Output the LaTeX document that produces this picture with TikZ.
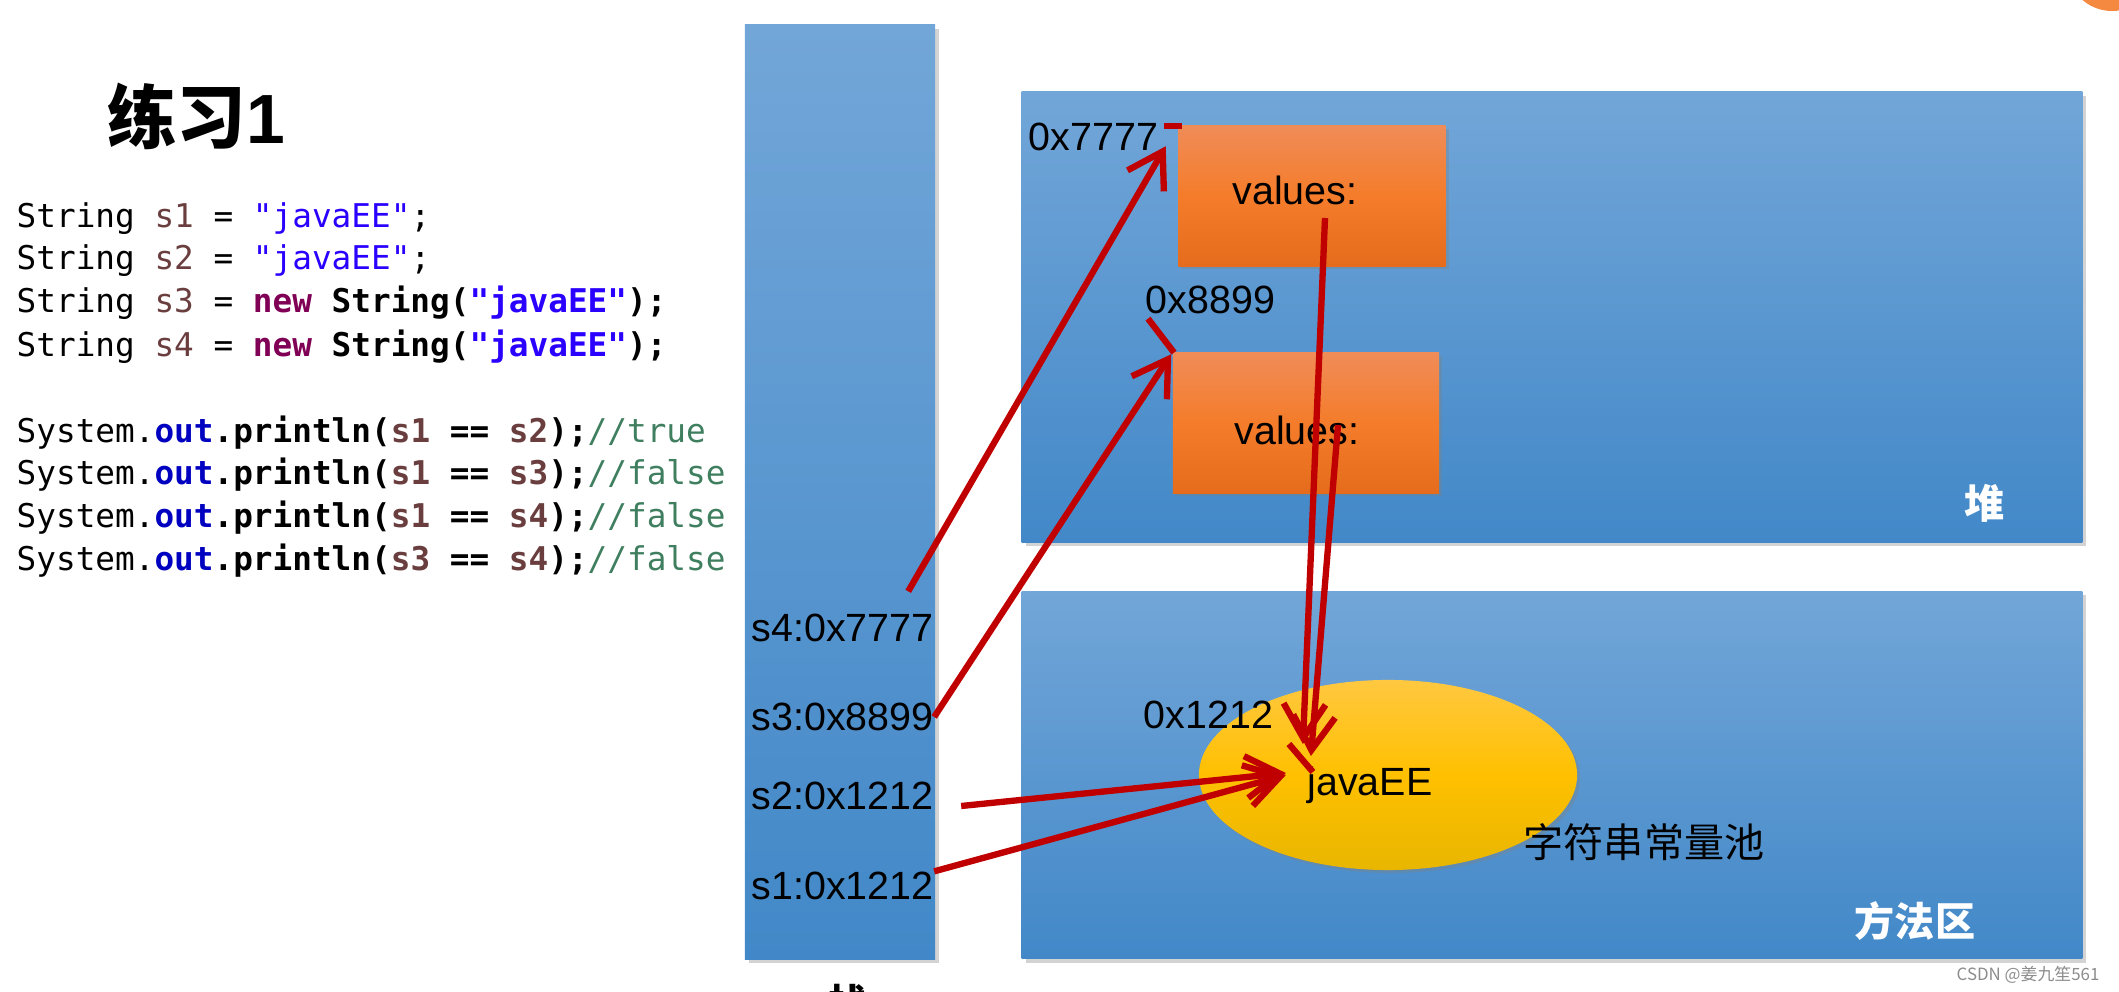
\documentclass[tikz,border=0pt]{standalone}
\usepackage{fontspec}
\setmainfont{Liberation Sans}
\setmonofont{DejaVu Sans Mono}
\newfontfamily\cjk{Noto Sans CJK SC}
\usetikzlibrary{arrows.meta,positioning,shapes.geometric,shadows}
\definecolor{areatop}{RGB}{114,166,216}
\definecolor{areabot}{RGB}{66,136,200}
\definecolor{objtop}{RGB}{240,140,88}
\definecolor{objmid}{RGB}{244,124,42}
\definecolor{objbot}{RGB}{228,108,28}
\definecolor{pooltop}{RGB}{255,200,64}
\definecolor{poolmid}{RGB}{255,192,0}
\definecolor{poolbot}{RGB}{232,182,0}
\definecolor{memred}{RGB}{192,0,0}
\definecolor{jvar}{RGB}{106,62,62}
\definecolor{jstr}{RGB}{42,0,255}
\definecolor{jkw}{RGB}{127,0,85}
\definecolor{jout}{RGB}{0,0,192}
\definecolor{jcmt}{RGB}{63,127,95}
\newcommand{\jvar}[1]{\textcolor{jvar}{#1}}
\newcommand{\jstr}[1]{\textcolor{jstr}{#1}}
\newcommand{\jkw}[1]{\textcolor{jkw}{#1}}
\newcommand{\jout}[1]{\textcolor{jout}{#1}}
\newcommand{\jcmt}[1]{\textcolor{jcmt}{#1}}

\begin{document}
\begin{tikzpicture}[x=0.01cm, y=-0.01cm,
  area/.style={inner sep=0, top color=areatop, bottom color=areabot,
    drop shadow={shadow xshift=0.04cm, shadow yshift=-0.04cm, opacity=0.35}},
  obj/.style={inner sep=0, top color=objtop, bottom color=objbot, middle color=objmid,
    drop shadow={shadow xshift=0.03cm, shadow yshift=-0.03cm, opacity=0.35}},
  lbl/.style={inner sep=0, font=\fontsize{11.2}{13}\selectfont},
  zh/.style={inner sep=0, font=\cjk\fontsize{11.4}{13}\selectfont},
  code/.style={anchor=base west, inner sep=0, font=\ttfamily\fontsize{9.3}{11}\selectfont},
  ptr/.style={memred, line width=1.8pt, -{Straight Barb[length=0.34cm,width=0.42cm]}},
  stub/.style={memred, line width=1.8pt}]
\useasboundingbox (0,0) rectangle (2119,992);
\fill[objmid!90!white] (2112,-34) circle (0.45cm);

% title and code
\node[font=\fontsize{19.8}{23}\selectfont\bfseries] (title) at (196,116) {{\cjk 练习}1};
\node[code] (c1) at (16,228) {String \jvar{s1} = \jstr{"javaEE"};};
\node[code] (c2) at (16,270) {String \jvar{s2} = \jstr{"javaEE"};};
\node[code] (c3) at (16,313) {String \jvar{s3} = \textbf{\jkw{new} String(\jstr{"javaEE"});}};
\node[code] (c4) at (16,357) {String \jvar{s4} = \textbf{\jkw{new} String(\jstr{"javaEE"});}};
\node[code] (c5) at (16,443) {System.\textbf{\jout{out}.println(\jvar{s1} == \jvar{s2});}\jcmt{//true}};
\node[code] (c6) at (16,485) {System.\textbf{\jout{out}.println(\jvar{s1} == \jvar{s3});}\jcmt{//false}};
\node[code] (c7) at (16,528) {System.\textbf{\jout{out}.println(\jvar{s1} == \jvar{s4});}\jcmt{//false}};
\node[code] (c8) at (16,571) {System.\textbf{\jout{out}.println(\jvar{s3} == \jvar{s4});}\jcmt{//false}};

% stack
\node[area, minimum width=1.90cm, minimum height=9.34cm] (stack) at (840,492) {};
\node[zh, font=\cjk\bfseries\fontsize{11.4}{13}\selectfont] (stacklbl) at (849,1003) {栈};
\node[lbl, anchor=west] (s4) at (751,628) {s4:0x7777};
\node[lbl, anchor=west] (s3) at (751,717) {s3:0x8899};
\node[lbl, anchor=west] (s2) at (751,796) {s2:0x1212};
\node[lbl, anchor=west] (s1) at (751,886) {s1:0x1212};

% heap
\node[area, minimum width=10.60cm, minimum height=4.50cm] (heap) at (1552,317) {};
\node[zh, text=white, font=\cjk\bfseries\fontsize{11.4}{13}\selectfont] (heaplbl) at (1985,503) {堆};
\node[obj, minimum width=2.67cm, minimum height=1.40cm] (obj1) at (1312,196) {};
\node[obj, minimum width=2.66cm, minimum height=1.40cm] (obj2) at (1306,423) {};
\node[lbl] (v1) at (1295,190) {values:};
\node[lbl] (v2) at (1297,430) {values:};
\node[lbl, anchor=west] (a7777) at (1028,137) {0x7777};
\node[lbl, anchor=west] (a8899) at (1145,300) {0x8899};

% method area
\node[area, minimum width=10.60cm, minimum height=3.67cm] (method) at (1552,775) {};
\node[zh, text=white, font=\cjk\bfseries\fontsize{11.4}{13}\selectfont] (methodlbl) at (1915,921) {方法区};
\node[ellipse, inner sep=0, minimum width=3.78cm, minimum height=1.90cm,
  top color=pooltop, bottom color=poolbot, middle color=poolmid,
  drop shadow={shadow xshift=0.03cm, shadow yshift=-0.03cm, opacity=0.35}] (pool) at (1388,775) {};
\node[lbl, text depth=0pt] (jee) at (1370,781) {javaEE};
\node[lbl, anchor=west] (a1212) at (1143,715) {0x1212};
\node[zh] (poollbl) at (1644,842) {字符串常量池};

% references
\draw[ptr] ([shift={(-26,-22)}]s4.north east) -- ([shift={(-12,21)}]obj1.north west);
\draw[ptr] (s3.east) -- ([shift={(-1,2)}]obj2.north west);
\draw[ptr] ([shift={(27,10)}]s2.east) -- ([shift={(-21,7)}]jee.north west);
\draw[ptr] (s1.north east) -- ([shift={(-21,-6)}]jee.west);
\draw[ptr] ([shift={(13,22)}]obj1.center) -- ([shift={(-4,-22)}]jee.north west);
\draw[ptr] ([shift={(32,2)}]obj2.center) -- ([shift={(4,-10)}]jee.north west);
\draw[stub] ([shift={(5,-11)}]a7777.east) -- ++(18,0);
\draw[stub] ([shift={(3,4)}]a8899.south west) -- ++(26,34);
\draw[stub] ([shift={(-18,-22)}]jee.north west) -- ++(24,28);

\node[inner sep=0, text=black!45, font=\cjk\fontsize{4.8}{6}\selectfont] (mark) at (2028,975) {CSDN @姜九笙561};
\end{tikzpicture}
\end{document}
